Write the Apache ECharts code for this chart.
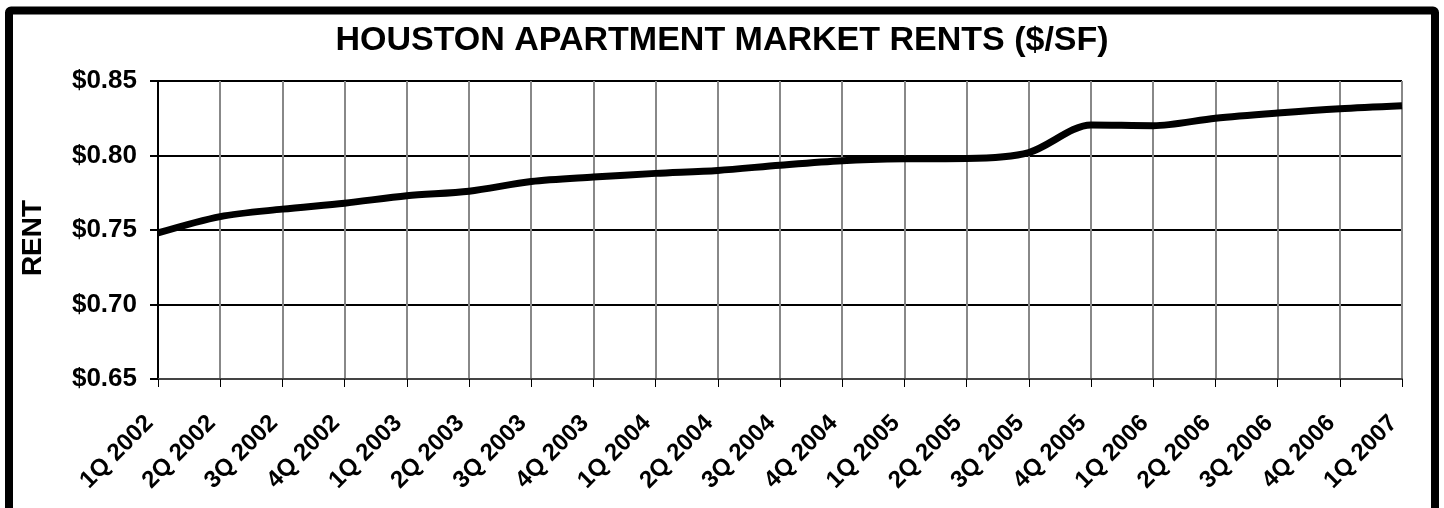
<!DOCTYPE html>
<html>
<head>
<meta charset="utf-8">
<script src="https://cdn.jsdelivr.net/npm/echarts@6/dist/echarts.min.js"></script>
<style>
  html, body { margin: 0; padding: 0; background: #fff; }
  #chart { width: 1444px; height: 508px; }
</style>
</head>
<body>
<div id="chart"></div>
<script>
// quarters on the x axis
const quarters = [
  '1Q 2002', '2Q 2002', '3Q 2002', '4Q 2002',
  '1Q 2003', '2Q 2003', '3Q 2003', '4Q 2003',
  '1Q 2004', '2Q 2004', '3Q 2004', '4Q 2004',
  '1Q 2005', '2Q 2005', '3Q 2005', '4Q 2005',
  '1Q 2006', '2Q 2006', '3Q 2006', '4Q 2006',
  '1Q 2007'
];
// rent in $/SF
const rent = [
  0.748, 0.759, 0.764, 0.768,
  0.773, 0.776, 0.7825, 0.7855,
  0.788, 0.790, 0.7935, 0.7965,
  0.7978, 0.798, 0.802, 0.8205,
  0.820, 0.825, 0.8285, 0.8314,
  0.8334
];
const FONT = '"Liberation Sans", Arial, sans-serif';

const chart = echarts.init(document.getElementById('chart'));
const option = {
  animation: false,
  backgroundColor: '#fff',
  title: {
    text: 'HOUSTON APARTMENT MARKET RENTS ($/SF)',
    left: 'center',
    top: 24,
    padding: 0,
    textStyle: { fontFamily: FONT, fontSize: 34, fontWeight: 'bold', color: '#000' }
  },
  grid: { left: 158, right: 42, top: 81, bottom: 129 },
  xAxis: {
    type: 'category',
    data: quarters,
    boundaryGap: false,
    axisLine: { lineStyle: { color: '#444', width: 2 } },
    axisTick: { show: true, length: 8, lineStyle: { color: '#000', width: 1 } },
    splitLine: { show: true, lineStyle: { color: '#888', width: 2 } },
    axisLabel: {
      rotate: 45,
      margin: 32,
      interval: 0,
      padding: [0, 12, 0, 0],
      fontFamily: FONT, fontSize: 24, fontWeight: 'bold', color: '#000'
    }
  },
  yAxis: {
    type: 'value',
    min: 0.65,
    max: 0.85,
    interval: 0.05,
    axisLine: { show: true, lineStyle: { color: '#000', width: 2 } },
    axisTick: { show: true, length: 8, lineStyle: { color: '#000', width: 2 } },
    splitLine: { show: true, lineStyle: { color: '#000', width: 2 } },
    axisLabel: {
      margin: 21,
      formatter: v => '$' + v.toFixed(2),
      fontFamily: FONT, fontSize: 26, fontWeight: 'bold', color: '#000'
    }
  },
  series: [{
    type: 'line',
    data: rent,
    smooth: 0.3,
    symbol: 'none',
    lineStyle: { color: '#000', width: 7 }
  }],
  graphic: [
    {
      type: 'text',
      x: 33, y: 238,
      rotation: Math.PI / 2,
      style: {
        text: 'RENT',
        fontFamily: FONT, fontSize: 28, fontWeight: 'bold',
        fill: '#000', align: 'center', verticalAlign: 'middle'
      }
    },
    {
      type: 'rect',
      shape: { x: 9, y: 10.5, width: 1426, height: 600, r: 2 },
      style: { fill: null, stroke: '#000', lineWidth: 8 },
      silent: true
    }
  ]
};
chart.setOption(option);
</script>
</body>
</html>
